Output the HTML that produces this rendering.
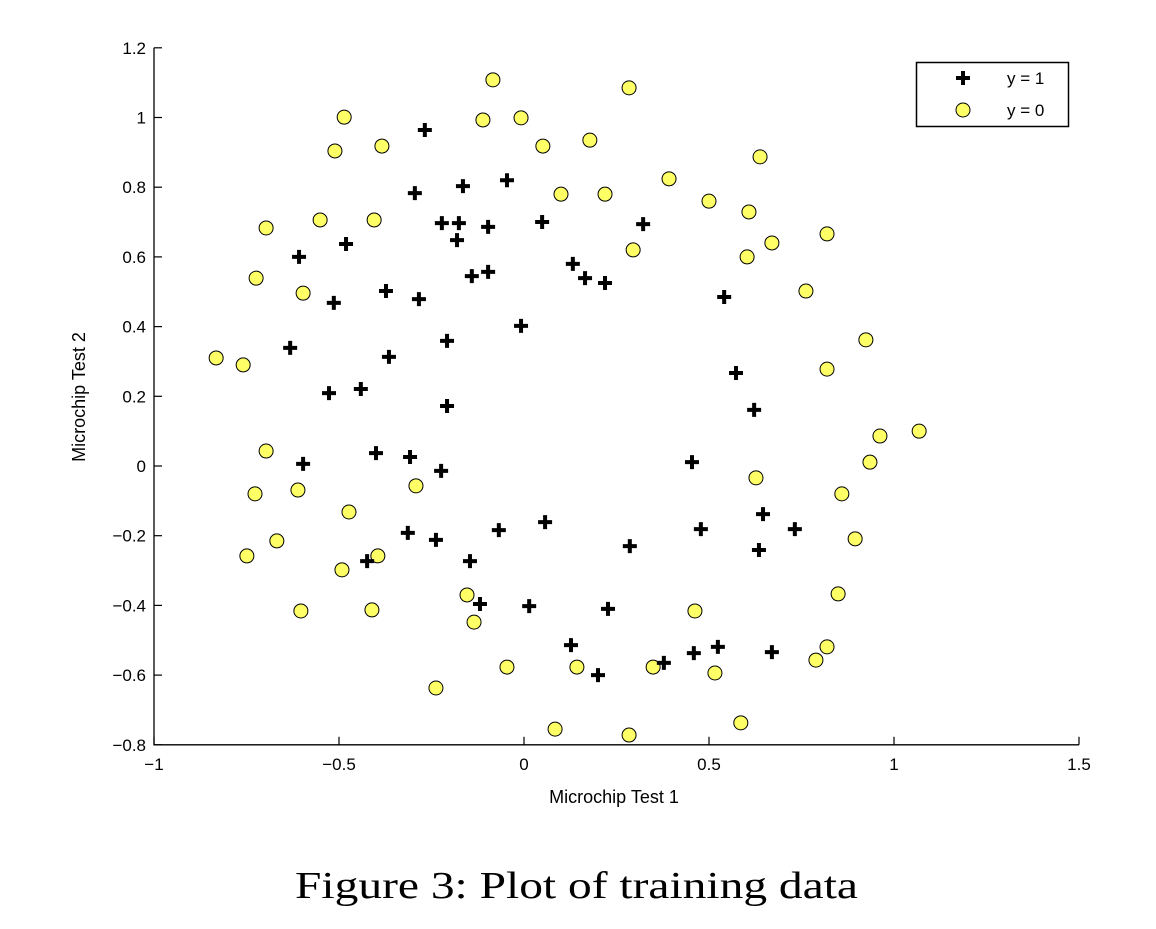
<!DOCTYPE html>
<html><head><meta charset="utf-8"><style>
body{margin:0;background:#fff;width:1156px;height:924px;overflow:hidden}
svg text{font-family:"Liberation Sans",sans-serif}
</style></head><body>
<svg id="chart" width="1156" height="924" xmlns="http://www.w3.org/2000/svg">
<g id="axes"></g>
<g id="marks"></g>
<g>
<rect x="916.5" y="62.5" width="152" height="64" fill="#fff" stroke="#000" stroke-width="1.5"/>
<path d="M956 78h14M963 71v14" stroke="#000" stroke-width="4"/>
<text x="1007" y="84" font-size="17">y = 1</text>
<circle cx="963" cy="110" r="7" fill="#ffff66" stroke="#000" stroke-width="1"/>
<text x="1007" y="116" font-size="17">y = 0</text>
</g>
<text x="614" y="803" font-size="18" text-anchor="middle">Microchip Test 1</text>
<text transform="translate(85,397) rotate(-90)" font-size="18" text-anchor="middle">Microchip Test 2</text>
<text x="295" y="898" font-size="38" textLength="563" lengthAdjust="spacingAndGlyphs" style="font-family:'Liberation Serif',serif">Figure 3: Plot of training data</text>
</svg>
<script>
const xTicks=[-1,-0.5,0,0.5,1,1.5];
const xTickLabels=["\u22121","\u22120.5","0","0.5","1","1.5"];
const yTicks=[-0.8,-0.6,-0.4,-0.2,0,0.2,0.4,0.6,0.8,1,1.2];
const yTickLabels=["\u22120.8","\u22120.6","\u22120.4","\u22120.2","0","0.2","0.4","0.6","0.8","1","1.2"];
const posX=[-0.268,-0.046,-0.165,-0.295,-0.222,-0.176,-0.097,0.049,0.322,-0.481,-0.181,-0.608,-0.097,-0.141,0.132,0.165,0.219,-0.373,-0.284,-0.514,0.541,-0.008,-0.208,-0.632,-0.365,-0.441,-0.527,0.573,0.622,-0.208,-0.400,-0.308,-0.597,-0.224,0.454,0.646,0.478,0.732,0.057,-0.068,-0.314,-0.238,0.635,0.286,-0.146,-0.424,-0.119,0.014,0.227,0.127,0.200,0.378,0.459,0.524,0.670];
const posY=[0.964,0.820,0.803,0.783,0.697,0.697,0.686,0.700,0.694,0.637,0.648,0.600,0.557,0.545,0.580,0.539,0.525,0.502,0.479,0.468,0.485,0.402,0.359,0.339,0.313,0.221,0.209,0.267,0.161,0.172,0.037,0.026,0.006,-0.014,0.011,-0.138,-0.181,-0.181,-0.161,-0.184,-0.192,-0.212,-0.241,-0.230,-0.273,-0.273,-0.396,-0.402,-0.410,-0.514,-0.600,-0.565,-0.537,-0.519,-0.534];
const negX=[-0.084,0.284,-0.486,-0.111,-0.008,-0.511,-0.384,0.051,0.178,0.638,0.392,0.100,0.219,0.500,0.608,-0.551,-0.405,-0.697,0.819,0.295,0.670,0.603,-0.724,-0.597,0.762,0.924,-0.832,-0.759,0.819,1.068,0.962,-0.697,0.935,-0.292,0.627,-0.727,-0.611,0.859,-0.473,0.895,-0.668,-0.749,-0.395,-0.492,-0.154,0.849,-0.603,-0.411,0.462,-0.135,-0.046,0.143,0.349,0.789,0.819,0.516,-0.238,0.084,0.586,0.284];
const negY=[1.108,1.085,1.001,0.993,0.999,0.904,0.918,0.918,0.935,0.887,0.824,0.780,0.780,0.760,0.729,0.706,0.706,0.683,0.666,0.620,0.640,0.600,0.539,0.496,0.502,0.362,0.310,0.290,0.278,0.100,0.086,0.043,0.011,-0.057,-0.034,-0.080,-0.069,-0.080,-0.132,-0.209,-0.215,-0.258,-0.258,-0.298,-0.370,-0.367,-0.416,-0.413,-0.416,-0.448,-0.577,-0.577,-0.577,-0.557,-0.519,-0.594,-0.637,-0.755,-0.737,-0.772];
const NS="http://www.w3.org/2000/svg";
function sx(v){return 524+v*370;}
function sy(v){return 466-v*348.5;}
function mk(t,a,p){const e=document.createElementNS(NS,t);for(const k in a)e.setAttribute(k,a[k]);p.appendChild(e);return e;}
const axes=document.getElementById('axes');
const L=sx(-1),R=sx(1.5),B=sy(-0.8),T=sy(1.2);
let ax=mk('path',{d:`M${L} ${T}V${B}H${R}`,stroke:'#000','stroke-width':1.3,fill:'none'},axes);


xTicks.forEach((v,i)=>{const x=sx(v);
 const t=mk('path',{d:`M${x} ${B}v-8`,stroke:'#000','stroke-width':1.2},axes);
 
 
 const l=mk('text',{x:x,y:B+25,'font-size':17,'text-anchor':'middle'},axes);l.textContent=xTickLabels[i];
 
 });
yTicks.forEach((v,i)=>{const y=sy(v);
 const t=mk('path',{d:`M${L} ${y}h8`,stroke:'#000','stroke-width':1.2},axes);
 
 
 const l=mk('text',{x:L-8,y:y+6,'font-size':17,'text-anchor':'end'},axes);l.textContent=yTickLabels[i];
 
 });
const marks=document.getElementById('marks');
negX.forEach((v,i)=>{const c=mk('circle',{cx:sx(v),cy:sy(negY[i]),r:7,fill:'#ffff66',stroke:'#000','stroke-width':1},marks);
 
 });
posX.forEach((v,i)=>{const x=sx(v),y=sy(posY[i]);
 const p=mk('path',{d:`M${x-7} ${y}h14M${x} ${y-7}v14`,stroke:'#000','stroke-width':4},marks);
 
 });
</script>
</body></html>
